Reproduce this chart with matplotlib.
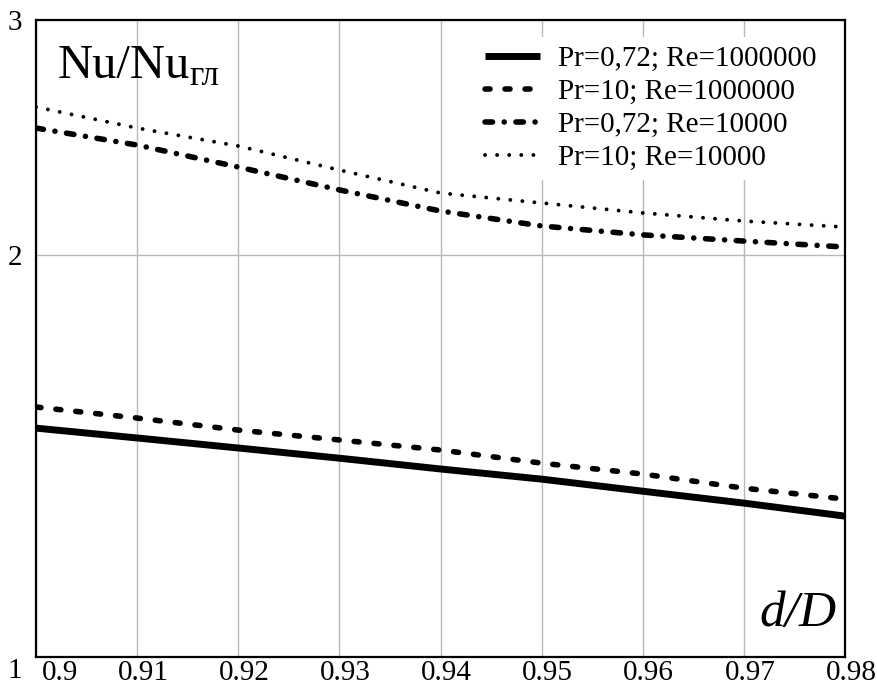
import numpy as np
import matplotlib
matplotlib.use("Agg")
import matplotlib.pyplot as plt
from matplotlib.transforms import ScaledTranslation

plt.rcParams['font.family'] = ['Liberation Serif', 'DejaVu Serif']

# d/D values and Nu/Nu_гл
x = [0.90, 0.91, 0.92, 0.93, 0.94, 0.95, 0.96, 0.97, 0.98]
pr072_re1e6 = [1.484, 1.459, 1.434, 1.409, 1.383, 1.359, 1.331, 1.304, 1.275]
pr10_re1e6 = [1.539, 1.510, 1.479, 1.454, 1.429, 1.397, 1.371, 1.338, 1.313]
pr072_re1e4 = [2.490, 2.418, 2.328, 2.238, 2.158, 2.103, 2.071, 2.049, 2.028]
pr10_re1e4 = [2.582, 2.490, 2.414, 2.316, 2.226, 2.188, 2.151, 2.121, 2.099]

labels = ['Pr=0,72; Re=1000000', 'Pr=10; Re=1000000',
          'Pr=0,72; Re=10000', 'Pr=10; Re=10000']
x_ticks = [0.9, 0.91, 0.92, 0.93, 0.94, 0.95, 0.96, 0.97, 0.98]
x_tick_labels = ['0.9', '0.91', '0.92', '0.93', '0.94', '0.95', '0.96', '0.97', '0.98']
y_ticks = [1, 2, 3]

fig = plt.figure(figsize=(8.77, 6.86), dpi=100)
ax = fig.add_axes([36 / 877, 29 / 686, 809 / 877, 637 / 686])

ax.plot(x, pr072_re1e6, color='black', lw=5, solid_capstyle='butt', label=labels[0])
ax.plot(x, pr10_re1e6, color='black', lw=4, dashes=(0.9, 2.7),
        dash_capstyle='round', label=labels[1])
ax.plot(x, pr072_re1e4, color='black', lw=4, dashes=(1.35, 2.1, 0.01, 2.1),
        dash_capstyle='round', label=labels[2])
ax.plot(x, pr10_re1e4, color='black', lw=2.8, dashes=(0.01, 3.1),
        dash_capstyle='round', label=labels[3])

ax.set_yscale('log')
ax.set_xlim(0.9, 0.98)
ax.set_ylim(1, 3)
ax.set_xticks(x_ticks)
ax.set_xticklabels(x_tick_labels)
ax.set_yticks(y_ticks)
ax.set_yticklabels([str(v) for v in y_ticks])
ax.yaxis.set_minor_locator(matplotlib.ticker.NullLocator())
ax.tick_params(axis='both', length=0, labelsize=21)
ax.tick_params(axis='x', pad=2)
ax.tick_params(axis='y', pad=10)

# nudge tick labels the way the original sits
for i, lab in enumerate(ax.get_xticklabels()):
    lab.set_transform(lab.get_transform() + ScaledTranslation(6 / 100, 0, fig.dpi_scale_trans))
    if i == 0:
        lab.set_horizontalalignment('left')
ylabs = ax.get_yticklabels()
ylabs[0].set_transform(ylabs[0].get_transform() + ScaledTranslation(0, -11 / 100, fig.dpi_scale_trans))

ax.grid(True, which='major', color='#b8b8b8', lw=1)
for s in ax.spines.values():
    s.set_linewidth(1.6)
    s.set_color('black')
    s.set_zorder(5)

ax.text(0.027, 0.909, 'Nu/Nu', transform=ax.transAxes, fontsize=35,
        ha='left', va='baseline')
ax.text(0.19, 0.898, 'гл', transform=ax.transAxes, fontsize=25,
        ha='left', va='baseline')
ax.text(0.99, 0.048, 'd/D', transform=ax.transAxes, fontsize=37,
        style='italic', ha='right', va='baseline')

leg = ax.legend(loc='upper right', bbox_to_anchor=(0.975, 0.973), fontsize=21,
                frameon=True, fancybox=False, edgecolor='none', framealpha=1,
                handlelength=1.9, handletextpad=0.6, labelspacing=0.22,
                borderpad=0.3, borderaxespad=0)

fig.savefig('out.png', dpi=100)
